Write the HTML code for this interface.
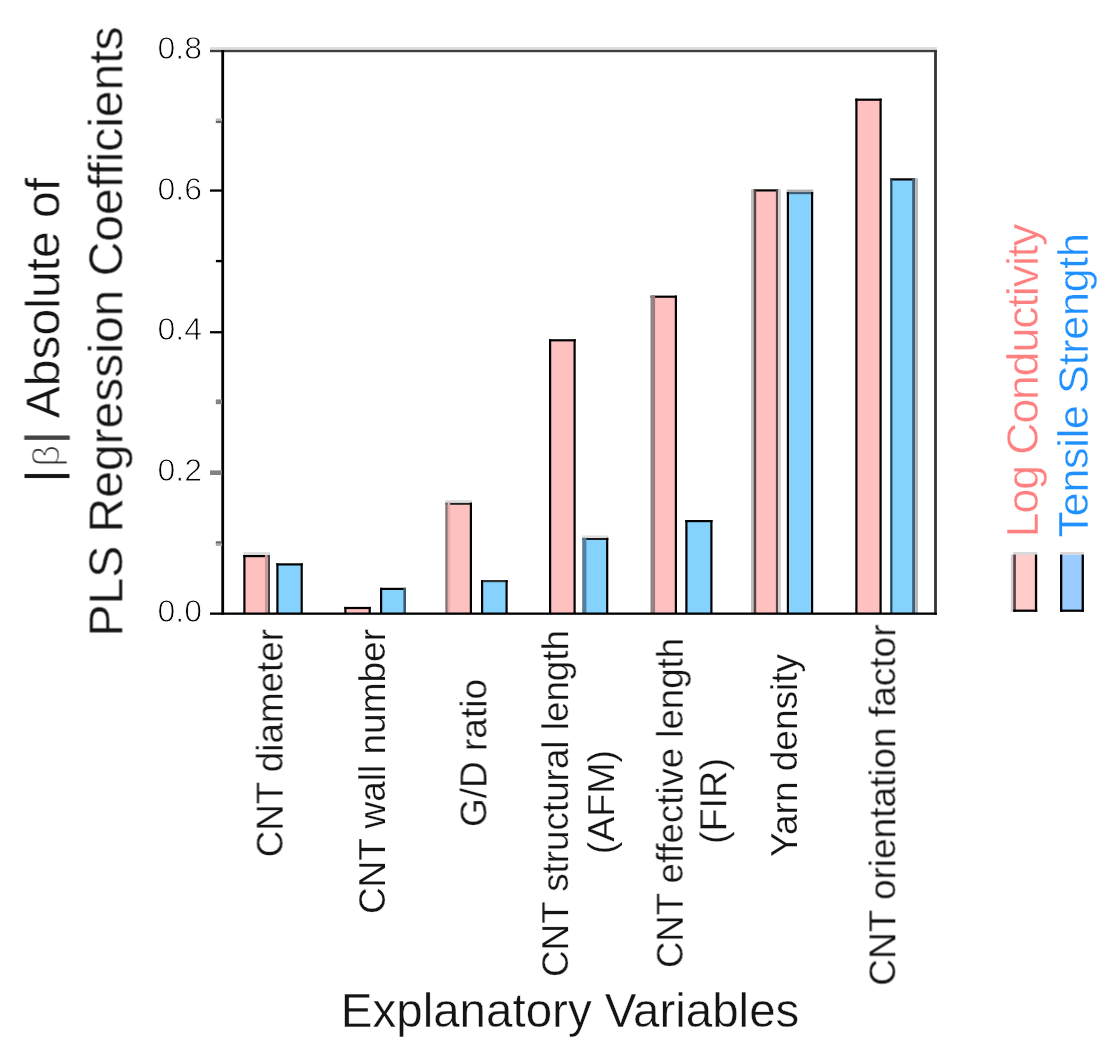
<!DOCTYPE html>
<html><head><meta charset="utf-8"><title>PLS Regression Coefficients</title>
<style>
html,body{margin:0;padding:0;background:#fff;}
body{width:1117px;height:1056px;overflow:hidden;}
svg{display:block;}
text{font-family:"Liberation Sans",sans-serif;fill:#141414;stroke:#fff;stroke-width:0.4px;stroke-linejoin:round;}
.tk text{stroke-width:0.9px;fill:#000;}
.xl text{stroke-width:0.25px;}
</style></head><body>
<svg width="1117" height="1056" viewBox="0 0 1117 1056">
<defs><filter id="soft" x="-5%" y="-5%" width="110%" height="110%" color-interpolation-filters="sRGB"><feGaussianBlur stdDeviation="0.4"/></filter></defs>
<rect width="1117" height="1056" fill="#fff"/>

<g shape-rendering="geometricPrecision">
<rect x="244.3" y="556.0" width="24.7" height="57.6" fill="#ffc0c0"/>
<rect x="243.3" y="555.0" width="26.7" height="2.2" fill="#000"/>
<rect x="243.3" y="552.1" width="26.7" height="2.9" fill="#dedede"/>
<rect x="243.3" y="555.0" width="2.2" height="58.6" fill="#000"/>
<rect x="267.8" y="555.0" width="2.2" height="58.6" fill="#444"/>
<rect x="264.9" y="555.0" width="2.9" height="58.6" fill="#c89898"/>
<rect x="277.3" y="564.3" width="24.5" height="49.4" fill="#85d2ff"/>
<rect x="276.3" y="563.3" width="26.5" height="2.2" fill="#000"/>
<rect x="276.3" y="563.3" width="2.2" height="50.4" fill="#000"/>
<rect x="300.6" y="563.3" width="2.2" height="50.4" fill="#000"/>
<rect x="345.3" y="607.9" width="24.5" height="5.8" fill="#ffc0c0"/>
<rect x="344.3" y="606.9" width="26.5" height="2.2" fill="#000"/>
<rect x="344.3" y="606.9" width="2.2" height="6.8" fill="#000"/>
<rect x="368.6" y="606.9" width="2.2" height="6.8" fill="#000"/>
<rect x="381.0" y="588.8" width="24.0" height="24.9" fill="#85d2ff"/>
<rect x="380.0" y="587.8" width="26.0" height="2.2" fill="#000"/>
<rect x="380.0" y="587.8" width="2.2" height="25.9" fill="#000"/>
<rect x="403.4" y="587.8" width="2.6" height="25.9" fill="#3b5a70"/>
<rect x="446.3" y="503.6" width="24.7" height="110.0" fill="#ffc0c0"/>
<rect x="445.3" y="502.6" width="26.7" height="2.2" fill="#222"/>
<rect x="445.3" y="500.0" width="26.7" height="2.6" fill="#e0e0e0"/>
<rect x="445.3" y="502.6" width="2.5" height="111.0" fill="#857575"/>
<rect x="447.8" y="502.6" width="2.3" height="111.0" fill="#e6adad"/>
<rect x="469.8" y="502.6" width="2.2" height="111.0" fill="#000"/>
<rect x="482.0" y="581.0" width="24.7" height="32.6" fill="#85d2ff"/>
<rect x="481.0" y="580.0" width="26.7" height="2.2" fill="#333"/>
<rect x="481.0" y="580.0" width="2.2" height="33.6" fill="#000"/>
<rect x="505.5" y="580.0" width="2.2" height="33.6" fill="#000"/>
<rect x="550.0" y="340.2" width="24.7" height="273.4" fill="#ffc0c0"/>
<rect x="549.0" y="339.2" width="26.7" height="2.2" fill="#000"/>
<rect x="549.0" y="339.2" width="2.2" height="274.4" fill="#000"/>
<rect x="573.5" y="339.2" width="2.2" height="274.4" fill="#000"/>
<rect x="583.2" y="538.8" width="24.1" height="74.9" fill="#85d2ff"/>
<rect x="582.2" y="537.8" width="26.1" height="2.2" fill="#1a1a1a"/>
<rect x="582.2" y="535.4" width="26.1" height="2.4" fill="#e0e0e0"/>
<rect x="582.2" y="537.8" width="4.2" height="75.9" fill="#557d9c"/>
<rect x="606.1" y="537.8" width="2.2" height="75.9" fill="#000"/>
<rect x="651.5" y="296.6" width="24.5" height="317.0" fill="#ffc0c0"/>
<rect x="650.5" y="295.6" width="26.5" height="2.2" fill="#000"/>
<rect x="650.5" y="295.6" width="2.4" height="318.0" fill="#8c8484"/>
<rect x="652.9" y="295.6" width="2.2" height="318.0" fill="#9c7c7c"/>
<rect x="674.8" y="295.6" width="2.2" height="318.0" fill="#000"/>
<rect x="686.3" y="521.0" width="25.2" height="92.6" fill="#85d2ff"/>
<rect x="685.3" y="520.0" width="27.2" height="2.2" fill="#000"/>
<rect x="685.3" y="520.0" width="2.2" height="93.6" fill="#000"/>
<rect x="710.3" y="520.0" width="2.2" height="93.6" fill="#000"/>
<rect x="754.6" y="190.3" width="22.7" height="423.3" fill="#ffc0c0"/>
<rect x="753.6" y="189.3" width="24.7" height="2.2" fill="#000"/>
<rect x="751.0" y="189.3" width="2.6" height="424.3" fill="#c0c0c0"/>
<rect x="753.6" y="189.3" width="2.6" height="424.3" fill="#5a4545"/>
<rect x="775.9" y="189.3" width="2.4" height="424.3" fill="#5a4545"/>
<rect x="778.3" y="189.3" width="2.6" height="424.3" fill="#d0d0d0"/>
<rect x="787.8" y="193.0" width="24.4" height="420.6" fill="#85d2ff"/>
<rect x="786.8" y="192.0" width="26.4" height="2.2" fill="#3d5f78"/>
<rect x="786.8" y="189.6" width="26.4" height="2.4" fill="#b0b0b0"/>
<rect x="786.8" y="192.0" width="2.2" height="421.6" fill="#000"/>
<rect x="811.0" y="192.0" width="2.2" height="421.6" fill="#000"/>
<rect x="856.3" y="99.6" width="24.4" height="514.0" fill="#ffc0c0"/>
<rect x="855.3" y="98.6" width="26.4" height="2.2" fill="#000"/>
<rect x="855.3" y="98.6" width="2.2" height="515.0" fill="#000"/>
<rect x="879.5" y="98.6" width="2.2" height="515.0" fill="#000"/>
<rect x="891.2" y="179.3" width="23.0" height="434.3" fill="#85d2ff"/>
<rect x="890.2" y="178.3" width="25.0" height="2.2" fill="#000"/>
<rect x="890.2" y="178.3" width="2.2" height="435.3" fill="#24465c"/>
<rect x="912.2" y="178.3" width="3.0" height="435.3" fill="#3d5f78"/>
<rect x="915.2" y="178.3" width="2.7" height="435.3" fill="#b4b4b4"/>
</g>
<g fill="none">
<rect x="210" y="47.1" width="726.9" height="2.9" fill="#dcdcdc"/>
<rect x="210" y="49.9" width="726.9" height="2.3" fill="#3e3e3e"/>
<rect x="934.1" y="50" width="2.8" height="564.8" fill="#343434"/>
<rect x="221.3" y="50" width="2.8" height="564.8" fill="#000"/>
<rect x="210" y="612.5" width="726.9" height="2.3" fill="#000"/>
</g>
<rect x="210" y="189.4" width="12.0" height="2.3" fill="#000"/>
<rect x="210" y="331.1" width="12.0" height="2.3" fill="#000"/>
<rect x="210" y="470.4" width="12.0" height="4.6" fill="#828282"/>
<rect x="215.9" y="259.9" width="6.1" height="2.4" fill="#000"/>
<rect x="215.8" y="399.4" width="6.2" height="4.8" fill="#858585"/>
<rect x="215.8" y="118.4" width="6.2" height="2.4" fill="#bcbcbc"/>
<rect x="215.8" y="120.8" width="6.2" height="2.3" fill="#666"/>
<rect x="215.8" y="541.3" width="6.2" height="2.4" fill="#666"/>
<rect x="215.8" y="543.6" width="6.2" height="2.3" fill="#ababab"/>
<g filter="url(#soft)">
<g class="tk" font-size="32" text-anchor="end">
<text x="202" y="621.5">0.0</text>
<text x="202" y="480.9">0.2</text>
<text x="202" y="340.2">0.4</text>
<text x="202" y="199.6">0.6</text>
<text x="202" y="58.9">0.8</text>
</g>
<g font-size="48" text-anchor="middle">
<text transform="translate(59.5,178) rotate(-90)" text-anchor="end"><tspan style="stroke:#141414;stroke-width:0.2px">|</tspan><tspan font-size="38" dx="3" style="fill:#333;stroke-width:1.3px">β</tspan><tspan dx="1" style="stroke:#444;stroke-width:0.4px;fill:#444">|</tspan> Absolute of</text>
<text transform="translate(122.5,331.5) rotate(-90)">PLS Regression Coefficients</text>
</g>
<g class="xl" text-anchor="end">
<text transform="translate(282.6,629) rotate(-90)" font-size="36.8">CNT diameter</text>
<text transform="translate(385,629) rotate(-90)" font-size="37">CNT wall number</text>
<text transform="translate(486.4,679) rotate(-90)" font-size="37">G/D ratio</text>
<text transform="translate(568.1,630) rotate(-90)" font-size="36.8">CNT structural length</text>
<text transform="translate(614,750) rotate(-90)" font-size="37.5">(AFM)</text>
<text transform="translate(682.7,638) rotate(-90)" font-size="36.6">CNT effective length</text>
<text transform="translate(726.2,758) rotate(-90)" font-size="37.8">(FIR)</text>
<text transform="translate(797,654) rotate(-90)" font-size="37">Yarn density</text>
<text transform="translate(895.3,624.5) rotate(-90)" font-size="37">CNT orientation factor</text>
</g>
<text x="340.8" y="1026.5" font-size="47.5">Explanatory Variables</text>
<g font-size="42.4">
<text transform="translate(1037.6,537.2) rotate(-90)" font-size="44.5" letter-spacing="-1.03" style="fill:#ff8080">Log Conductivity</text>
<text transform="translate(1087.8,537.4) rotate(-90)" font-size="43" letter-spacing="-0.27" style="fill:#1e90ff">Tensile Strength</text>
</g>
</g>
<rect x="1013.2" y="554.6" width="23.9" height="57.2" fill="#ffcccc"/>
<rect x="1013.2" y="552.1" width="24.0" height="2.7" fill="#d6d6d6"/>
<rect x="1010.8" y="554.6" width="2.4" height="57.2" fill="#cfcfcf"/>
<rect x="1013.2" y="554.6" width="2.7" height="57.2" fill="#5a4545"/>
<rect x="1034.9" y="554.6" width="2.3" height="57.2" fill="#000"/>
<rect x="1013.2" y="609.6" width="24.0" height="2.2" fill="#000"/>
<rect x="1060.0" y="554.6" width="23.9" height="57.2" fill="#99ccff"/>
<rect x="1060.0" y="552.1" width="23.9" height="2.7" fill="#d6d6d6"/>
<rect x="1060.0" y="554.6" width="2.3" height="57.2" fill="#000"/>
<rect x="1081.6" y="554.6" width="2.3" height="57.2" fill="#000"/>
<rect x="1060.0" y="609.6" width="23.9" height="2.2" fill="#000"/>
</svg></body></html>
